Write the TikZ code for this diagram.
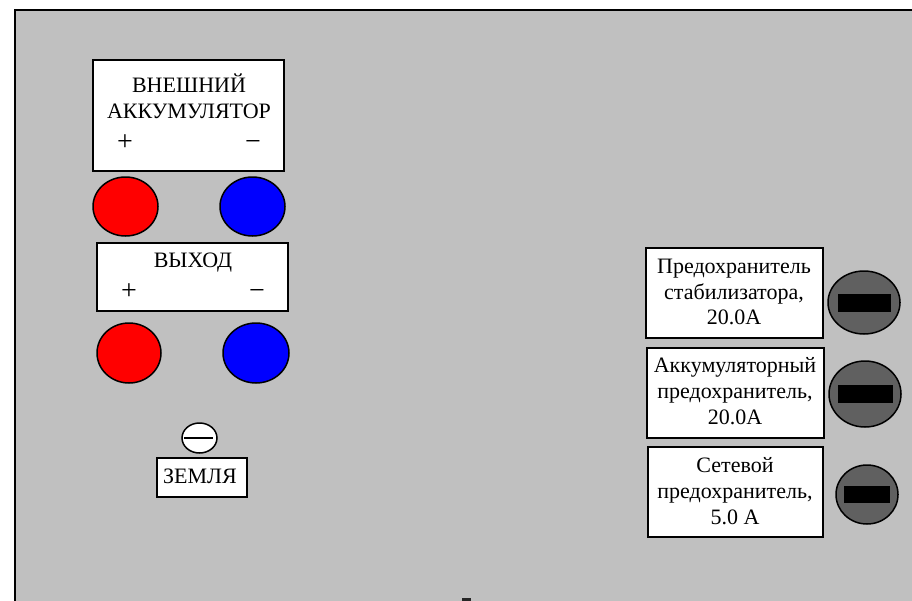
\documentclass[tikz,border=0pt]{standalone}
\usepackage{fontspec}
\setmainfont{Liberation Serif}
\usetikzlibrary{shapes.geometric}
\definecolor{panelgray}{HTML}{C0C0C0}
\definecolor{knobgray}{HTML}{606060}
\begin{document}
\begin{tikzpicture}[x=1pt,y=-1pt,
  lbl/.style={font=\fontsize{22}{26}\selectfont, inner sep=0pt, anchor=base},
  sign/.style={font=\fontsize{28}{30}\selectfont, inner sep=0pt, anchor=base},
  whitebox/.style={draw=black, line width=1.5pt, fill=white, inner sep=0pt},
  terminal/.style={ellipse, draw=black, line width=1.5pt, inner sep=0pt, minimum width=65pt, minimum height=59pt},
  knob/.style={ellipse, draw=black, line width=1.5pt, fill=knobgray, inner sep=0pt},
  slot/.style={rectangle, fill=black, inner sep=0pt}
]
\useasboundingbox (0,0) rectangle (912,600);
\clip (0,0) rectangle (912,600);
\fill[white] (0,0) rectangle (912,600);
\draw[line width=2pt, fill=panelgray] (15,10) rectangle (940,640);

% external battery
\node[whitebox, minimum width=191pt, minimum height=111pt] (bat) at (188.5,115.5) {};
\node[lbl] (batT1) at (189,92) {ВНЕШНИЙ};
\node[lbl] (batT2) at (189,118) {АККУМУЛЯТОР};
\node[sign] (batP) at (125,150) {+};
\node[sign] (batM) at (253,150) {−};
\node[terminal, fill=red] (batR) at (125.5,206.5) {};
\node[terminal, fill=blue] (batB) at (252.5,206.5) {};

% output
\node[whitebox, minimum width=191pt, minimum height=68pt] (out) at (192.5,277) {};
\node[lbl] (outT) at (193,267) {ВЫХОД};
\node[sign] (outP) at (129,299) {+};
\node[sign] (outM) at (257,299) {−};
\node[terminal, fill=red, minimum width=64pt, minimum height=60pt] (outR) at (129,353) {};
\node[terminal, fill=blue, minimum width=66pt, minimum height=60pt] (outB) at (256,353) {};

% ground
\node[ellipse, draw=black, line width=1.5pt, fill=white, inner sep=0pt, minimum width=35pt, minimum height=30pt] (gnd) at (199.5,438) {};
\draw[line width=1.5pt] ([xshift=3pt]gnd.west) -- ([xshift=-5pt]gnd.east);
\node[whitebox, minimum width=90pt, minimum height=39pt] (gndBox) at (202,477.5) {};
\node[lbl] (gndT) at (200,483) {ЗЕМЛЯ};

% fuse 1
\node[whitebox, minimum width=177pt, minimum height=90pt] (f1) at (734.5,293) {};
\node[lbl] (f1a) at (734,273) {Предохранитель};
\node[lbl] (f1b) at (734,299) {стабилизатора,};
\node[lbl] (f1c) at (734,324) {20.0A};
\node[knob, minimum width=72pt, minimum height=63pt] (k1) at (864,302.5) {};
\node[slot, minimum width=53pt, minimum height=18pt] (s1) at (k1.center) {};

% fuse 2
\node[whitebox, minimum width=177pt, minimum height=90pt] (f2) at (735.5,393) {};
\node[lbl] (f2a) at (735,372) {Аккумуляторный};
\node[lbl] (f2b) at (735,398) {предохранитель,};
\node[lbl] (f2c) at (735,424) {20.0A};
\node[knob, minimum width=72pt, minimum height=66pt] (k2) at (865,394) {};
\node[slot, minimum width=55pt, minimum height=18pt] (s2) at (k2.center) {};

% fuse 3
\node[whitebox, minimum width=175pt, minimum height=90pt] (f3) at (735.5,492) {};
\node[lbl] (f3a) at (735,472) {Сетевой};
\node[lbl] (f3b) at (735,498) {предохранитель,};
\node[lbl] (f3c) at (735,524) {5.0 A};
\node[knob, minimum width=62pt, minimum height=59pt] (k3) at (867,494.5) {};
\node[slot, minimum width=46pt, minimum height=17pt] (s3) at (k3.center) {};

% clipped mark at bottom
\fill[black!85] (462,598) rectangle (471,601);
\end{tikzpicture}
\end{document}
